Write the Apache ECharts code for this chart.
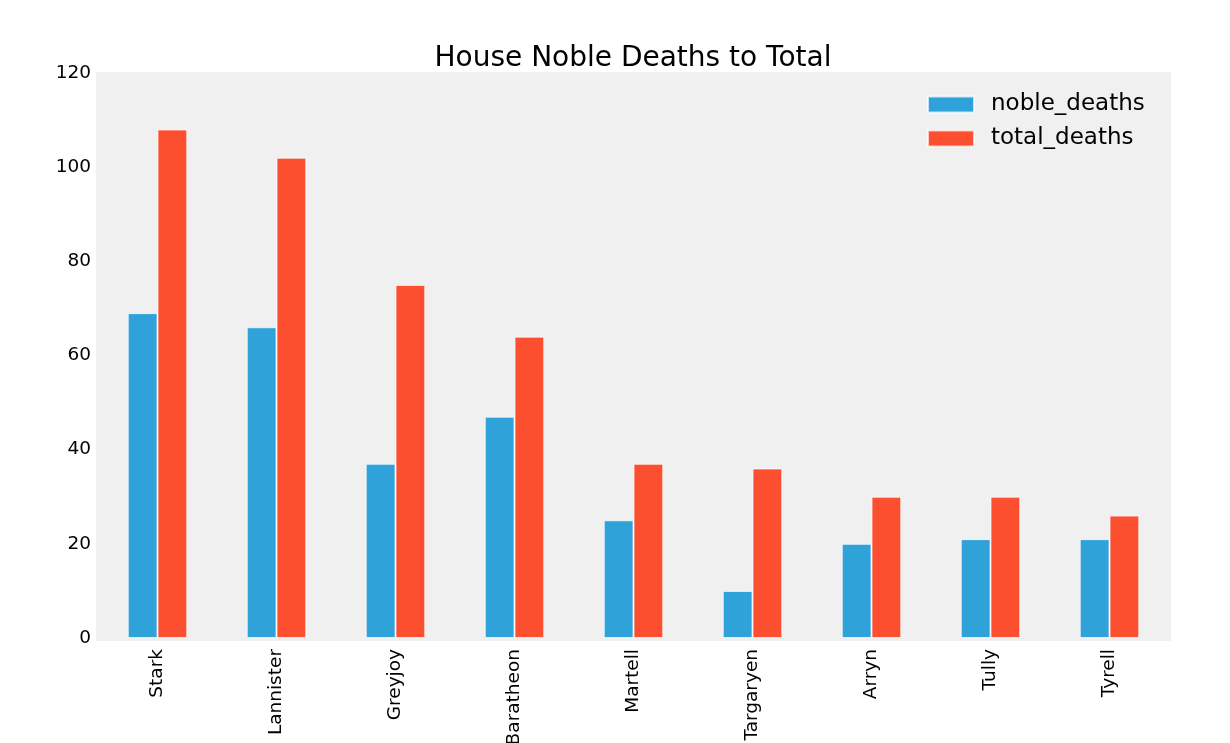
<!DOCTYPE html>
<html>
<head>
<meta charset="utf-8">
<script src="https://cdn.jsdelivr.net/npm/echarts@6/dist/echarts.min.js"></script>
<style>html,body{margin:0;padding:0;background:#fff;}#c{width:1230px;height:743px;}</style>
</head>
<body>
<div id="c"></div>
<script>
const houses = ['Stark','Lannister','Greyjoy','Baratheon','Martell','Targaryen','Arryn','Tully','Tyrell'];
const nobleDeaths = [69, 66, 37, 47, 25, 10, 20, 21, 21];
const totalDeaths = [108, 102, 75, 64, 37, 36, 30, 30, 26];
const yTicks = {min: 0, max: 120, interval: 20};

const font = 'DejaVu Sans';
const chart = echarts.init(document.getElementById('c'), null, {renderer: 'canvas'});
chart.setOption({
  animation: false,
  backgroundColor: '#ffffff',
  title: {
    text: 'House Noble Deaths to Total',
    left: 628, top: 40, textAlign: 'center',
    textStyle: {fontFamily: font, fontSize: 28, fontWeight: 'normal', color: '#000'}
  },
  graphic: [{
    type: 'rect', z: -10, silent: true,
    shape: {x: 96, y: 72, width: 1075, height: 569},
    style: {fill: '#f0f0f0'}
  }],
  legend: {
    orient: 'vertical', left: 922, top: 88,
    itemWidth: 46, itemHeight: 16, itemGap: 11,
    textStyle: {fontFamily: font, fontSize: 23, color: '#000', padding: [0,0,0,12]},
    icon: 'rect',
    data: ['noble_deaths','total_deaths']
  },
  grid: {left: 98, right: 61, top: 73, bottom: 105, containLabel: false, outerBoundsMode: 'none'},
  xAxis: {
    type: 'category', data: houses,
    axisLine: {show: false}, axisTick: {show: false},
    splitLine: {show: false},
    axisLabel: {rotate: 90, margin: 11, fontFamily: font, fontSize: 18.5, color: '#000'}
  },
  yAxis: {
    type: 'value', min: yTicks.min, max: yTicks.max, interval: yTicks.interval,
    axisLine: {show: false}, axisTick: {show: false},
    splitLine: {show: false},
    axisLabel: {margin: 7, fontFamily: font, fontSize: 18.5, color: '#000'}
  },
  series: [
    {name: 'noble_deaths', type: 'bar', data: nobleDeaths, barWidth: '25%', barGap: '0%',
     itemStyle: {color: '#30a2da', borderColor: 'rgba(255,255,255,0.7)', borderWidth: 1}},
    {name: 'total_deaths', type: 'bar', data: totalDeaths, barWidth: '25%', barGap: '0%',
     itemStyle: {color: '#fc4f30', borderColor: 'rgba(255,255,255,0.7)', borderWidth: 1}}
  ]
});
</script>
</body>
</html>
